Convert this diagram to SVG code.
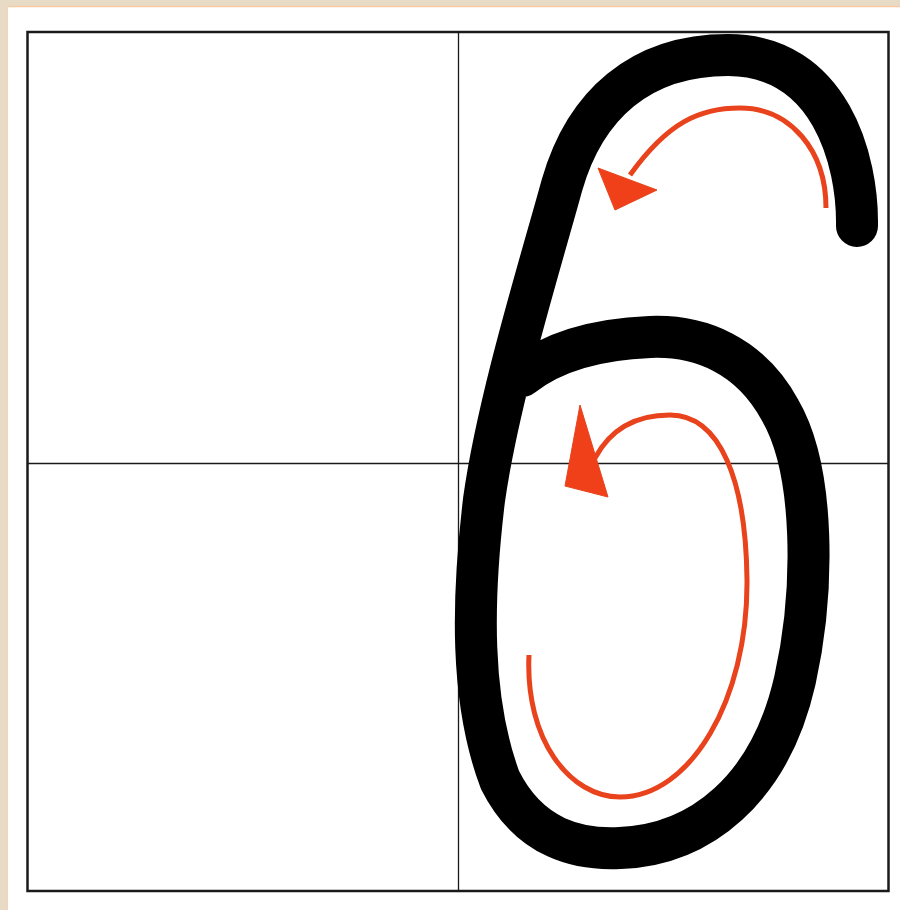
<svg xmlns="http://www.w3.org/2000/svg" width="900" height="910" viewBox="0 0 900 910">
  <style>
    .grid { fill: none; stroke: #1a1a1a; }
    .digit { fill: none; stroke: #000; stroke-width: 42; stroke-linecap: round; stroke-linejoin: round; }
    .guide { fill: none; stroke: #e8431c; stroke-width: 5; }
    .head { fill: #f0401a; stroke: #e8431c; stroke-width: 1; stroke-linejoin: round; }
  </style>
  <g id="background">
    <rect x="0" y="0" width="900" height="910" fill="#e7dbc6"/>
    <rect x="7" y="6" width="893" height="904" fill="#ffffff"/>
    <line x1="7" y1="6.5" x2="900" y2="6.5" stroke="#f6c9a2" stroke-width="1.5"/>
    <line x1="7.5" y1="6" x2="7.5" y2="910" stroke="#f6d3b6" stroke-width="1"/>
  </g>
  <g id="grid">
    <rect class="grid" x="27.5" y="32" width="861" height="859" stroke-width="2.5"/>
    <line class="grid" x1="458.5" y1="32" x2="458.5" y2="891" stroke-width="1.3"/>
    <line class="grid" x1="27.5" y1="463.5" x2="888.5" y2="463.5" stroke-width="1.3"/>
  </g>
  <g id="digit-six">
    <path class="digit" d="M 857 226 C 858 160, 830 55, 728 55 C 640 55, 585 105, 562 185 C 540 265, 498 400, 484 500 C 472 600, 470 700, 500 780 C 530 840, 580 850, 620 848 C 700 845, 770 790, 795 680 C 815 590, 815 470, 780 410 C 750 355, 700 335, 650 337 C 600 339, 555 350, 522 376"/>
  </g>
  <g id="arrow-top">
    <path class="guide" d="M 826 208 C 826 150, 790 108, 740 108 C 700 108, 668 122, 630 175"/>
    <polygon class="head" points="598,168 657,190 615,210"/>
  </g>
  <g id="arrow-loop">
    <path class="guide" d="M 529 655 C 525 740, 570 797, 620 797 C 690 797, 748 700, 747 580 C 746 480, 720 415, 670 415 C 635 415, 610 430, 595 458"/>
    <polygon class="head" points="580,405 565,486 608,497"/>
  </g>
</svg>
